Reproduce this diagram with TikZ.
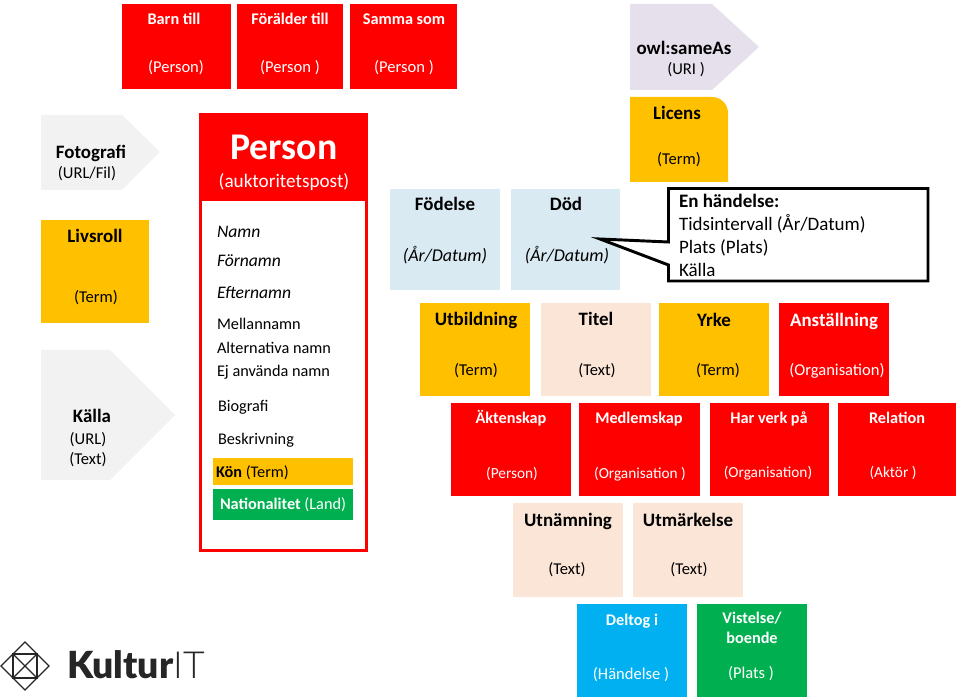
\documentclass[tikz,border=0pt]{standalone}
\usepackage{fontspec}
\setmainfont{Carlito}
\newfontfamily\logofont{Lato}
\newfontfamily\logoheavy{Lato Black}
\newfontfamily\logothin{Lato Light}
\definecolor{cred}{HTML}{FF0000}
\definecolor{cgold}{HTML}{FFC000}
\definecolor{cpale}{HTML}{DAEAF3}
\definecolor{cpeach}{HTML}{FBE5D6}
\definecolor{cgrey}{HTML}{F2F2F2}
\definecolor{clav}{HTML}{E6E0EC}
\definecolor{cblue}{HTML}{00B0F0}
\definecolor{cgreen}{HTML}{00B050}
\tikzset{
  x=0.75pt,y=-0.75pt,
  bx/.style={draw=none,inner sep=0pt,outer sep=0pt},
  lbl/.style={inner sep=0pt,outer sep=0pt,anchor=base,font=\fontsize{13.5}{15}\selectfont},
  ttl/.style={lbl,font=\fontsize{14.2}{16}\bfseries\selectfont},
  small/.style={lbl,yshift=1.1pt,font=\fontsize{12.4}{14}\selectfont},
  smaller/.style={lbl,yshift=1pt,font=\fontsize{11.5}{14}\selectfont},
  smallb/.style={lbl,yshift=0.8pt,font=\fontsize{12.2}{14}\bfseries\selectfont},
  pers/.style={lbl,yshift=1pt,anchor=base west,font=\fontsize{12.2}{14}\selectfont},
  persi/.style={lbl,anchor=base west,font=\fontsize{13.2}{15}\itshape\selectfont},
  evt/.style={lbl,anchor=base west,font=\fontsize{14.25}{16}\selectfont},
  wht/.style={text=white},
}
% name, x0,y0,x1,y1, fill
\newcommand{\bxx}[6]{%
  \pgfmathsetmacro{\cxx}{(#2+#4)/2}\pgfmathsetmacro{\cyy}{(#3+#5)/2}%
  \pgfmathsetmacro{\wxx}{(#4-#2)*0.75}\pgfmathsetmacro{\hxx}{(#5-#3)*0.75}%
  \node[bx,fill=#6,minimum width=\wxx pt,minimum height=\hxx pt] (#1) at (\cxx,\cyy) {};%
}
% name, x, visual-centre y, style, text
\newcommand{\tx}[5]{\node[#4] (#1) at (#2,#3+7) {#5};}
\begin{document}
\begin{tikzpicture}
\useasboundingbox (0,0) rectangle (960,698);
% top row
\bxx{barn}{122}{4}{231}{89}{cred}
\tx{barnT}{174}{19}{smallb,wht}{Barn till}
\tx{barnS}{176}{67}{small,wht}{(Person)}
\bxx{foral}{237}{4}{343}{89}{cred}
\tx{foralT}{290}{19}{smallb,wht}{Förälder till}
\tx{foralS}{290}{67}{small,wht}{(Person )}
\bxx{samma}{350}{4}{457}{89}{cred}
\tx{sammaT}{404}{19}{smallb,wht}{Samma som}
\tx{sammaS}{404}{67}{small,wht}{(Person )}
% owl:sameAs
\path[fill=clav] (630,4) -- (712,4) -- (759,47) -- (712,90) -- (630,90) -- cycle;
\tx{owlT}{684}{48}{ttl}{owl:sameAs}
\tx{owlS}{686}{69}{small}{(URI )}
% Licens
\path[fill=cgold] (630,97) -- (712,97) to[out=0,in=90] (728,113) -- (728,182) -- (630,182) -- cycle;
\tx{licT}{677}{113}{ttl}{Licens}
\tx{licS}{679}{159}{small}{(Term)}
% Fotografi
\path[fill=cgrey] (41,115) -- (122,115) -- (160,152) -- (122,190) -- (41,190) -- cycle;
\tx{fotT}{91}{152}{ttl}{Fotografi}
\tx{fotS}{87}{173}{small}{(URL/Fil)}
% Livsroll
\bxx{liv}{41}{220}{149}{323}{cgold}
\tx{livT}{95}{236}{ttl}{Livsroll}
\tx{livS}{96}{297}{small}{(Term)}
% Kalla
\path[fill=cgrey] (41,350) -- (110,350) -- (175,415) -- (110,480) -- (41,480) -- cycle;
\tx{kalT}{92}{415}{ttl}{Källa}
\tx{kalS}{88}{439}{small}{(URL)}
\tx{kalU}{88}{459}{small}{(Text)}
% Person
\bxx{pbody}{200.5}{114.5}{366.5}{550.5}{white}
\bxx{phead}{199}{113}{368}{201}{cred}
\node[draw=cred,line width=2.2pt,inner sep=0pt,minimum width=124.5pt,minimum height=327pt] (pframe) at (283.5,332.5) {};
\tx{pT}{284}{153}{lbl,wht,font=\fontsize{28.3}{30}\bfseries\selectfont}{Person}
\tx{pS}{284}{181}{lbl,wht,font=\fontsize{14.4}{16}\selectfont}{(auktoritetspost)}
\tx{p1}{217}{231}{persi}{Namn}
\tx{p2}{217}{260}{persi}{Förnamn}
\tx{p3}{217}{292}{persi}{Efternamn}
\tx{p4}{217}{324}{pers}{Mellannamn}
\tx{p5}{217}{348}{pers}{Alternativa namn}
\tx{p6}{217}{371}{pers}{Ej använda namn}
\tx{p7}{218}{406}{pers}{Biografi}
\tx{p8}{218}{439}{pers}{Beskrivning}
\bxx{kon}{213}{458}{353}{485}{cgold}
\tx{konT}{216}{472}{pers}{\textbf{Kön} (Term)}
\bxx{nat}{213}{489}{353}{520}{cgreen}
\tx{natT}{220}{504}{pers,wht}{\textbf{Nationalitet} (Land)}
% Fodelse / Dod
\bxx{fod}{390}{189}{500}{290}{cpale}
\tx{fodT}{445}{204}{ttl}{Födelse}
\tx{fodS}{445}{255}{lbl,font=\fontsize{13.5}{15}\itshape\selectfont}{(År/Datum)}
\bxx{dod}{511}{189}{620}{290}{cpale}
\tx{dodT}{566}{204}{ttl}{Död}
\tx{dodS}{567}{255}{lbl,font=\fontsize{13.5}{15}\itshape\selectfont}{(År/Datum)}
% Callout
\path[draw=black,fill=white,line width=2.2pt,line join=miter] (668.5,188.5) -- (928,188.5) -- (928,281) -- (668.5,281) -- (668.5,265) -- (600,239) -- (668.5,242) -- cycle;
\tx{evA}{679}{201}{evt,font=\fontsize{14.25}{16}\bfseries\selectfont}{En händelse:}
\tx{evB}{679}{224}{evt}{Tidsintervall (År/Datum)}
\tx{evC}{679}{247}{evt}{Plats (Plats)}
\tx{evD}{679}{270}{evt}{Källa}
% row 3
\bxx{utb}{420}{303}{530}{396}{cgold}
\tx{utbT}{476}{319}{ttl}{Utbildning}
\tx{utbS}{476}{370}{small}{(Term)}
\bxx{tit}{541}{303}{651}{396}{cpeach}
\tx{titT}{596}{319}{ttl}{Titel}
\tx{titS}{597}{370}{small}{(Text)}
\bxx{yrk}{659}{303}{769}{396}{cgold}
\tx{yrkT}{714}{320}{ttl}{Yrke}
\tx{yrkS}{718}{370}{small}{(Term)}
\bxx{ans}{779}{303}{889}{396}{cred}
\tx{ansT}{834}{320}{ttl,wht}{Anställning}
\tx{ansS}{837}{370}{small,wht}{(Organisation)}
% row 4
\bxx{akt}{451}{403}{571}{496}{cred}
\tx{aktT}{511}{418}{smallb,wht}{Äktenskap}
\tx{aktS}{512}{473}{smaller,wht}{(Person)}
\bxx{med}{579}{403}{700}{496}{cred}
\tx{medT}{639}{418}{smallb,wht}{Medlemskap}
\tx{medS}{640}{473}{smaller,wht}{(Organisation )}
\bxx{har}{710}{403}{829}{496}{cred}
\tx{harT}{769}{418}{smallb,wht}{Har verk på}
\tx{harS}{768}{472}{smaller,wht}{(Organisation)}
\bxx{rel}{838}{403}{956}{496}{cred}
\tx{relT}{897}{418}{smallb,wht}{Relation}
\tx{relS}{893}{472}{smaller,wht}{(Aktör )}
% row 5
\bxx{utn}{513}{503}{623}{597}{cpeach}
\tx{utnT}{568}{519}{ttl}{Utnämning}
\tx{utnS}{567}{569}{small}{(Text)}
\bxx{utm}{633}{503}{743}{597}{cpeach}
\tx{utmT}{688}{519}{ttl}{Utmärkelse}
\tx{utmS}{689}{569}{small}{(Text)}
% row 6
\bxx{del}{577}{604}{687}{697}{cblue}
\tx{delT}{632}{620}{smallb,wht}{Deltog i}
\tx{delS}{631}{674}{small,wht}{(Händelse )}
\bxx{vis}{697}{604}{807}{697}{cgreen}
\tx{visT}{752}{618}{smallb,wht}{Vistelse/}
\tx{visU}{752}{638}{smallb,wht}{boende}
\tx{visS}{751}{673}{small,wht}{(Plats )}
% logo
\path[draw=black!85,line width=1pt,line join=miter] (25,642) -- (49,666) -- (25,690) -- (1,666) -- cycle;
\path[draw=black!85,line width=1pt] (13,654) rectangle (37,678);
\path[draw=black!85,line width=1pt] (13,654) -- (37,678) (37,654) -- (13,678);
\node[inner sep=0pt,outer sep=0pt,anchor=base west,text=black!85] (logo) at (67,678) {\fontsize{28}{30}\selectfont\logoheavy Kultur\logothin IT};
\end{tikzpicture}
\end{document}
